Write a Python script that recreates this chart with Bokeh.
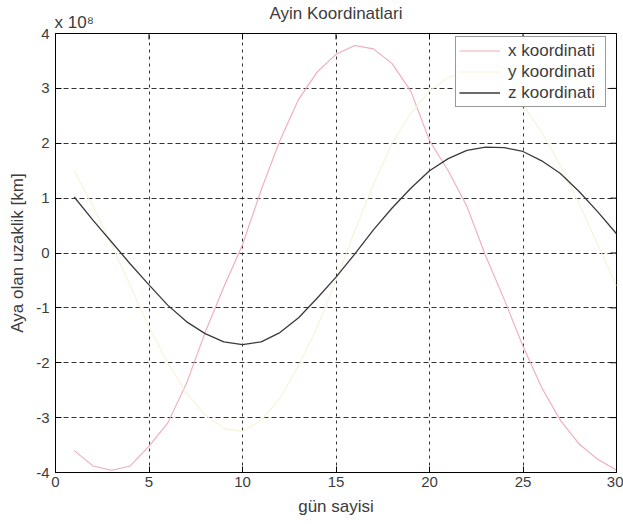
import math
from bokeh.plotting import figure
from bokeh.models import Range1d, Legend, LegendItem, FixedTicker, LinearAxis
from bokeh.embed import file_html
from bokeh.resources import INLINE

# ---- data (values in units of 10^8 km) ----
days = list(range(1, 31))
x_koordinati = [-3.60, -3.88, -3.96, -3.88, -3.52, -3.10, -2.38, -1.45, -0.62, 0.15,
                1.15, 2.05, 2.80, 3.30, 3.62, 3.78, 3.72, 3.45, 2.95, 2.05,
                1.50, 0.85, -0.05, -0.85, -1.70, -2.45, -3.05, -3.48, -3.76, -3.96]
y_koordinati = [1.50, 0.85, 0.15, -0.60, -1.35, -2.00, -2.55, -2.95, -3.20, -3.25,
                -3.05, -2.65, -2.05, -1.35, -0.50, 0.40, 1.25, 2.00, 2.55, 2.95,
                3.20, 3.30, 3.25, 3.05, 2.70, 2.20, 1.60, 0.90, 0.15, -0.60]
z_koordinati = [1.02, 0.60, 0.20, -0.20, -0.58, -0.95, -1.25, -1.47, -1.62, -1.67,
                -1.62, -1.45, -1.18, -0.82, -0.44, -0.02, 0.42, 0.82, 1.18, 1.50,
                1.72, 1.87, 1.93, 1.92, 1.85, 1.68, 1.45, 1.12, 0.75, 0.35]
x_ticks = [0, 5, 10, 15, 20, 25, 30]
y_ticks = [-4, -3, -2, -1, 0, 1, 2, 3, 4]
series_labels = ["x koordinati", "y koordinati", "z koordinati"]
title_text = "Ayin Koordinatlari"
exponent_text = "x 10\u2078"
exponent_pos = 1.0          # where the "x 10^8" note sits along the top edge
x_label = "gün sayisi"
y_label = "Aya olan uzaklik [km]"

FONT = "Liberation Sans"
TXT = "#3c3c3c"

p = figure(width=623, height=524, output_backend="svg", toolbar_location=None,
           x_range=Range1d(x_ticks[0], x_ticks[-1]), y_range=Range1d(y_ticks[0], y_ticks[-1]),
           min_border_left=55, min_border_right=7, min_border_top=33, min_border_bottom=52,
           background_fill_color="white", border_fill_color="white")

p.outline_line_color = "black"
p.outline_line_width = 1

xa = p.below[0]
ya = p.left[0]
for ax, ticks in ((xa, x_ticks), (ya, y_ticks)):
    ax.ticker = FixedTicker(ticks=ticks)
    ax.major_label_overrides = {t: str(t) for t in ticks}
    ax.major_tick_in = 6
    ax.major_tick_out = 0
    ax.minor_tick_in = 0
    ax.minor_tick_out = 0
    ax.axis_line_color = "black"
    ax.major_tick_line_color = "black"
    ax.major_label_text_font = FONT
    ax.major_label_text_font_size = "15px"
    ax.major_label_text_color = TXT
    ax.axis_label_text_font = FONT
    ax.axis_label_text_font_size = "17px"
    ax.axis_label_text_font_style = "normal"
    ax.axis_label_text_color = TXT

xa.axis_label = x_label
xa.major_label_standoff = 4
xa.axis_label_standoff = 7
ya.axis_label = y_label
ya.major_label_standoff = 6
ya.axis_label_standoff = 6

# top edge: "x 10^8" note next to the y axis, and the chart title on the same band
top_axis = LinearAxis(ticker=FixedTicker(ticks=[exponent_pos]),
                      major_label_overrides={exponent_pos: exponent_text},
                      major_tick_in=0, major_tick_out=0, minor_tick_in=0, minor_tick_out=0,
                      major_label_standoff=2, major_label_text_font=FONT,
                      major_label_text_font_size="17px", major_label_text_color=TXT,
                      axis_label=title_text, axis_label_standoff=-13,
                      axis_label_text_font=FONT, axis_label_text_font_size="17px",
                      axis_label_text_font_style="normal", axis_label_text_color=TXT,
                      axis_line_color="black")
p.add_layout(top_axis, "above")

p.xgrid.ticker = FixedTicker(ticks=x_ticks)
p.ygrid.ticker = FixedTicker(ticks=y_ticks)
p.xgrid.grid_line_color = "#333333"
p.xgrid.grid_line_dash = "3 4"
p.ygrid.grid_line_color = "#333333"
p.ygrid.grid_line_dash = "5 3"

# inward ticks on the top and right edges of the box
p.ray(x=x_ticks, y=[y_ticks[-1]] * len(x_ticks), length=6, length_units="screen",
      angle=-math.pi / 2, line_color="black", line_width=1)
p.ray(x=[x_ticks[-1]] * len(y_ticks), y=y_ticks, length=6, length_units="screen",
      angle=math.pi, line_color="black", line_width=1)

r_x = p.line(days, x_koordinati, line_color="#f2a9b8", line_width=1.1)
r_y = p.line(days, y_koordinati, line_color="#f6f3d6", line_width=1.1)
r_z = p.line(days, z_koordinati, line_color="#3a3a3a", line_width=1.3)

legend = Legend(items=[LegendItem(label=series_labels[0], renderers=[r_x]),
                       LegendItem(label=series_labels[1], renderers=[r_y]),
                       LegendItem(label=series_labels[2], renderers=[r_z])],
                location=(400, 365), margin=0, padding=3, spacing=0,
                glyph_width=41, glyph_height=21, label_height=21, label_width=94,
                label_standoff=8, label_text_font=FONT, label_text_font_size="17px",
                label_text_color=TXT, border_line_color="#333333", border_line_width=1,
                background_fill_color="white", background_fill_alpha=1)
p.add_layout(legend)

open("out.html", "w").write(file_html(p, INLINE))
